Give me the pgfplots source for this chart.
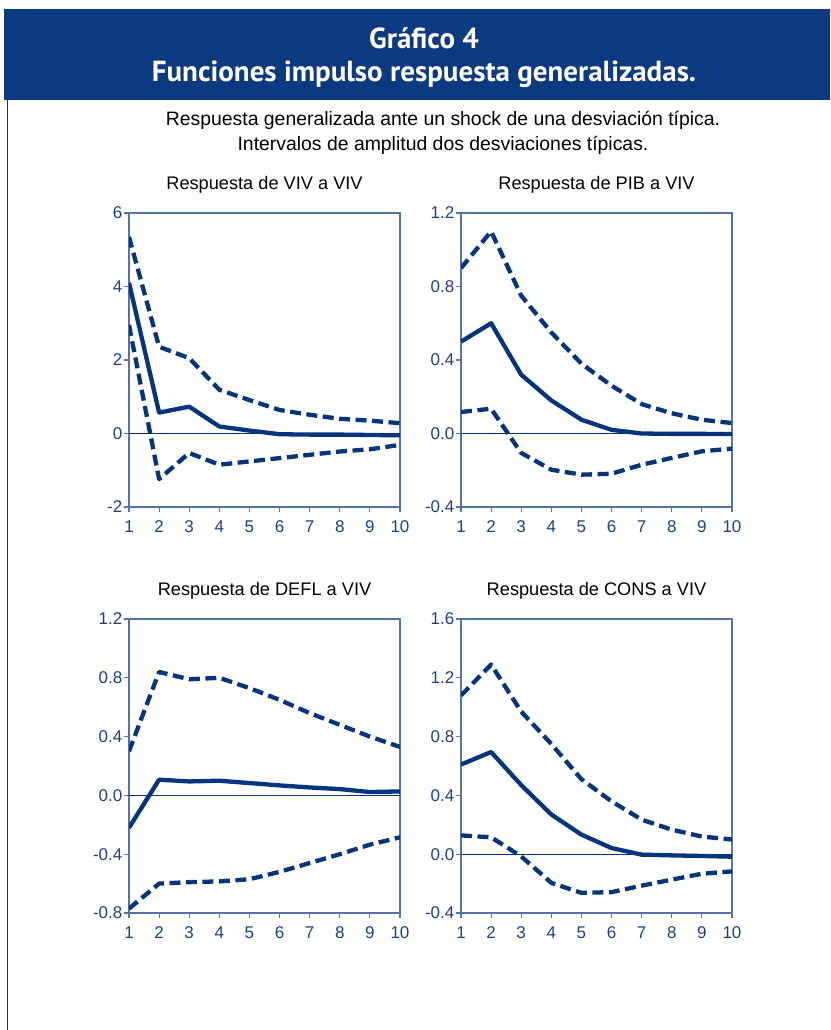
\documentclass[border=0pt]{standalone}
\usepackage{fontspec}
\setmainfont{Liberation Sans}
\newfontfamily\bannerfont{PT Sans}
\usepackage{pgfplots}
\pgfplotsset{compat=1.18}
\definecolor{navy}{RGB}{4,52,124}
\definecolor{bannerc}{RGB}{12,58,128}
\definecolor{axisc}{RGB}{85,115,170}
\definecolor{tickc}{RGB}{30,62,140}

\pgfplotsset{irf/.style={
  scale only axis, width=271pt, height=294pt, anchor=north west,
  xmin=1, xmax=10, xtick={1,...,10},
  axis line style={axisc, line width=1.3pt},
  every tick/.style={axisc, line width=1.1pt},
  tick align=outside, major tick length=5pt,
  xtick pos=left, ytick pos=left,
  /pgf/number format/assume math mode=true,
  ticklabel style={font=\fontsize{17}{17}\selectfont, text=tickc},
  xticklabel style={yshift=-5pt},
  yticklabel style={inner xsep=1.5pt},
  title style={font=\fontsize{18.2}{19}\selectfont, anchor=base, at={(0.5,1)}, yshift=18pt},
},
mid/.style={navy, line width=4.3pt, line join=round},
band/.style={navy, line width=4.3pt, line join=round, dash pattern=on 11pt off 5.5pt},
zero/.style={navy, line width=1pt}
}

\begin{document}
\begin{tikzpicture}
\useasboundingbox (0,0) rectangle (830pt,-1030pt);
\fill[bannerc] (4pt,-9pt) rectangle (830pt,-100pt);
\draw[navy, line width=1.5pt] (7.5pt,-100pt) -- (7.5pt,-1030pt);
\node[white, anchor=base, font=\bannerfont\bfseries\fontsize{29}{30}\selectfont] at (424pt,-49pt) {Gráfico 4};
\node[white, anchor=base, font=\bannerfont\bfseries\fontsize{29}{30}\selectfont] at (424pt,-82pt) {Funciones impulso respuesta generalizadas.};
\node[black, anchor=base, font=\fontsize{19.4}{20}\selectfont] at (443pt,-126pt) {Respuesta generalizada ante un shock de una desviación típica.};
\node[black, anchor=base, font=\fontsize{19.4}{20}\selectfont] at (443pt,-150pt) {Intervalos de amplitud dos desviaciones típicas.};

% Panel 1
\begin{axis}[irf, at={(129pt,-213pt)}, ymin=-2, ymax=6, ytick={-2,0,2,4,6}, yticklabels={-2,0,2,4,6},
  title={Respuesta de VIV a VIV}]
\addplot[zero] coordinates {(1,0) (10,0)};
\addplot[band] coordinates {(1,5.35) (2,2.36) (3,2.05) (4,1.19) (5,0.91) (6,0.64) (7,0.51) (8,0.40) (9,0.35) (10,0.28)};
\addplot[band] coordinates {(1,2.95) (2,-1.24) (3,-0.53) (4,-0.85) (5,-0.76) (6,-0.67) (7,-0.58) (8,-0.49) (9,-0.43) (10,-0.31)};
\addplot[mid] coordinates {(1,4.10) (2,0.57) (3,0.73) (4,0.19) (5,0.08) (6,-0.02) (7,-0.03) (8,-0.03) (9,-0.04) (10,-0.05)};
\end{axis}

% Panel 2
\begin{axis}[irf, at={(461pt,-213pt)}, ymin=-0.4, ymax=1.2, ytick={-0.4,0,0.4,0.8,1.2}, yticklabels={-0.4,0.0,0.4,0.8,1.2},
  title={Respuesta de PIB a VIV}]
\addplot[zero] coordinates {(1,0) (10,0)};
\addplot[band] coordinates {(1,0.90) (2,1.10) (3,0.75) (4,0.55) (5,0.38) (6,0.26) (7,0.16) (8,0.11) (9,0.075) (10,0.057)};
\addplot[band] coordinates {(1,0.117) (2,0.135) (3,-0.106) (4,-0.197) (5,-0.224) (6,-0.219) (7,-0.17) (8,-0.133) (9,-0.097) (10,-0.082)};
\addplot[mid] coordinates {(1,0.50) (2,0.60) (3,0.32) (4,0.18) (5,0.075) (6,0.02) (7,0.0) (8,-0.002) (9,-0.002) (10,-0.003)};
\end{axis}

% Panel 3
\begin{axis}[irf, at={(129pt,-619pt)}, ymin=-0.8, ymax=1.2, ytick={-0.8,-0.4,0,0.4,0.8,1.2}, yticklabels={-0.8,-0.4,0.0,0.4,0.8,1.2},
  title={Respuesta de DEFL a VIV}]
\addplot[zero] coordinates {(1,0) (10,0)};
\addplot[band] coordinates {(1,0.30) (2,0.84) (3,0.79) (4,0.80) (5,0.73) (6,0.65) (7,0.56) (8,0.48) (9,0.40) (10,0.33)};
\addplot[band] coordinates {(1,-0.77) (2,-0.60) (3,-0.59) (4,-0.585) (5,-0.57) (6,-0.52) (7,-0.46) (8,-0.40) (9,-0.335) (10,-0.285)};
\addplot[mid] coordinates {(1,-0.22) (2,0.107) (3,0.095) (4,0.10) (5,0.084) (6,0.068) (7,0.054) (8,0.043) (9,0.023) (10,0.027)};
\end{axis}

% Panel 4
\begin{axis}[irf, at={(461pt,-619pt)}, ymin=-0.4, ymax=1.6, ytick={-0.4,0,0.4,0.8,1.2,1.6}, yticklabels={-0.4,0.0,0.4,0.8,1.2,1.6},
  title={Respuesta de CONS a VIV}]
\addplot[zero] coordinates {(1,0) (10,0)};
\addplot[band] coordinates {(1,1.08) (2,1.29) (3,0.97) (4,0.75) (5,0.51) (6,0.36) (7,0.235) (8,0.167) (9,0.12) (10,0.10)};
\addplot[band] coordinates {(1,0.128) (2,0.115) (3,-0.015) (4,-0.195) (5,-0.263) (6,-0.258) (7,-0.214) (8,-0.173) (9,-0.133) (10,-0.117)};
\addplot[mid] coordinates {(1,0.61) (2,0.695) (3,0.47) (4,0.27) (5,0.133) (6,0.042) (7,-0.003) (8,-0.008) (9,-0.012) (10,-0.017)};
\end{axis}
\end{tikzpicture}
\end{document}
